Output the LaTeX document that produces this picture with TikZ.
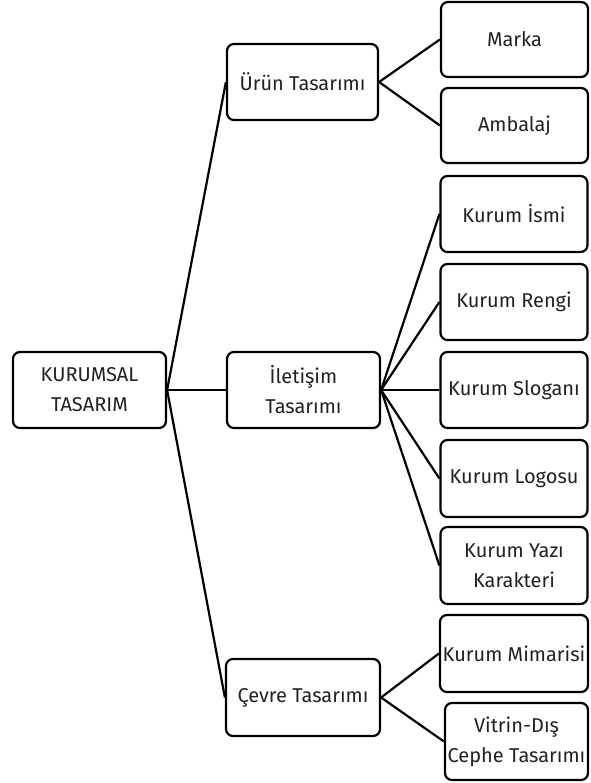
\documentclass[tikz,border=0pt]{standalone}
\usepackage{fontspec}
\setmainfont{Fira Sans}
\definecolor{txt}{HTML}{222222}
\begin{document}
\begin{tikzpicture}[x=1pt,y=-1pt,
  box/.style={draw=black, line width=2.2pt, rounded corners=7pt, fill=white,
    text=txt, align=center, inner sep=0pt, font=\fontsize{20}{30}\selectfont},
  link/.style={draw=black, line width=2.2pt}]
\useasboundingbox (0,0) rectangle (590,783);
\node[box, minimum width=153pt, minimum height=76pt] (root) at (89.5,390) {KURUMSAL\\TASARIM};
\node[box, minimum width=151pt, minimum height=76pt] (urun) at (302.5,82) {Ürün Tasarımı};
\node[box, minimum width=153pt, minimum height=76pt] (ilet) at (303.5,390) {İletişim\\Tasarımı};
\node[box, minimum width=154pt, minimum height=77pt] (cevre) at (303,697.5) {Çevre Tasarımı};
\node[box, minimum width=147pt, minimum height=75pt] (marka) at (514.5,39.5) {Marka};
\node[box, minimum width=147pt, minimum height=75pt] (amb) at (514.5,125.5) {Ambalaj};
\node[box, minimum width=147pt, minimum height=76pt] (isim) at (514,214) {Kurum İsmi};
\node[box, minimum width=147pt, minimum height=76pt] (renk) at (514,302) {Kurum Rengi};
\node[box, minimum width=147pt, minimum height=76pt] (slogan) at (514,390) {Kurum Sloganı};
\node[box, minimum width=147pt, minimum height=77pt] (logo) at (514,478.5) {Kurum Logosu};
\node[box, minimum width=147pt, minimum height=77pt] (yazi) at (514,565.5) {Kurum Yazı\\Karakteri};
\node[box, minimum width=148pt, minimum height=77pt] (mimari) at (514,653.5) {Kurum Mimarisi};
\node[box, minimum width=143pt, minimum height=77pt] (vitrin) at (516.5,741.5) {Vitrin-Dış\\Cephe Tasarımı};
\draw[link] (root.east) -- (urun.west);
\draw[link] (root.east) -- (ilet.west);
\draw[link] (root.east) -- (cevre.west);
\draw[link] (urun.east) -- (marka.west);
\draw[link] (urun.east) -- (amb.west);
\draw[link] (ilet.east) -- (isim.west);
\draw[link] (ilet.east) -- (renk.west);
\draw[link] (ilet.east) -- (slogan.west);
\draw[link] (ilet.east) -- (logo.west);
\draw[link] (ilet.east) -- (yazi.west);
\draw[link] (cevre.east) -- (mimari.west);
\draw[link] (cevre.east) -- (vitrin.west);
\end{tikzpicture}
\end{document}
